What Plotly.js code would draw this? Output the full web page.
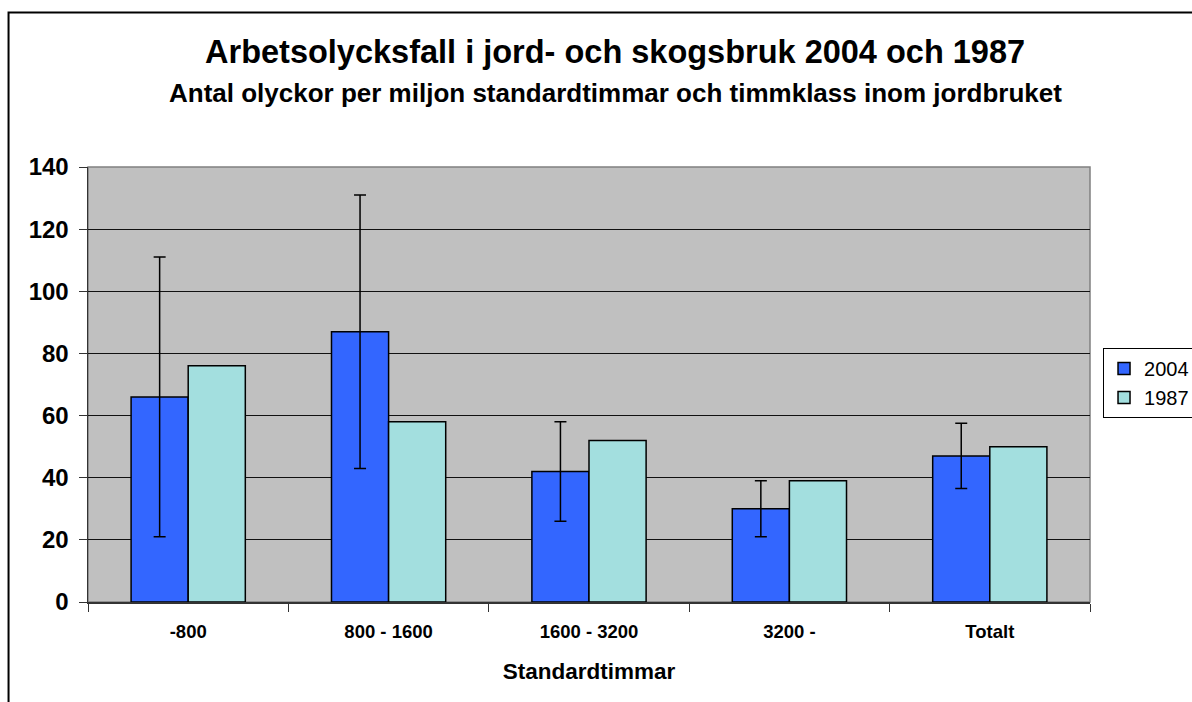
<!DOCTYPE html>
<html>
<head>
<meta charset="utf-8">
<script src="https://cdn.plot.ly/plotly-3.0.1.min.js"></script>
<style>
html,body{margin:0;padding:0;background:#fff;}
#chart{width:1192px;height:702px;}
</style>
</head>
<body>
<div id="chart"></div>
<script>
const categories = ["-800", "800 - 1600", "1600 - 3200", "3200 -", "Totalt"];
const values2004 = [66, 87, 42, 30, 47];
const errors2004 = [45, 44, 16, 9, 10.5];
const values1987 = [76, 58, 52, 39, 50];
const seriesNames = ["2004", "1987"];
const yTicks = [0, 20, 40, 60, 80, 100, 120, 140];

const FONT = '"Liberation Sans", Arial, sans-serif';

const traces = [
  {
    type: 'bar', name: seriesNames[0], x: categories, y: values2004,
    marker: {color: '#3366FF', line: {color: '#000000', width: 1.5}},
    error_y: {type: 'data', array: errors2004, visible: true, color: '#000000', thickness: 1.5, width: 6}
  },
  {
    type: 'bar', name: seriesNames[1], x: categories, y: values1987,
    marker: {color: '#A3DFDF', line: {color: '#000000', width: 1.5}}
  }
];

const layout = {
  width: 1192, height: 702,
  margin: {l: 88, r: 102, t: 167, b: 100, pad: 0, autoexpand: false},
  paper_bgcolor: '#FFFFFF',
  plot_bgcolor: '#C0C0C0',
  font: {family: FONT, color: '#000000'},
  barmode: 'group',
  bargap: 0.43,
  bargroupgap: 0,
  title: {
    text: 'Arbetsolycksfall i jord- och skogsbruk 2004 och 1987',
    font: {family: FONT, size: 32.5, weight: 700, color: '#000'},
    x: 0.516, xanchor: 'center', y: 0.926, yanchor: 'middle', xref: 'container', yref: 'container'
  },
  annotations: [{
    text: 'Antal olyckor per miljon standardtimmar och timmklass inom jordbruket',
    xref: 'paper', yref: 'paper', x: 0.526, y: 1.170, xanchor: 'center', yanchor: 'middle',
    showarrow: false, font: {family: FONT, size: 26, weight: 700, color: '#000'}
  }],
  xaxis: {
    type: 'category',
    tickson: 'boundaries',
    ticks: 'outside', ticklen: 8, tickcolor: '#333', tickwidth: 1,
    showline: true, linecolor: '#333', linewidth: 1.5,
    showgrid: false,
    ticklabelstandoff: 12,
    tickfont: {family: FONT, size: 18.5, weight: 700, color: '#000'},
    title: {text: 'Standardtimmar', font: {family: FONT, size: 22.5, weight: 700, color: '#000'}, standoff: 22}
  },
  yaxis: {
    range: [0, 140],
    tickvals: yTicks,
    ticks: 'outside', ticklen: 8, tickcolor: '#333', tickwidth: 1,
    showline: true, linecolor: '#333', linewidth: 1.5,
    showgrid: true, gridcolor: '#111', gridwidth: 1,
    zeroline: false,
    ticklabelstandoff: 5,
    tickfont: {family: FONT, size: 24, weight: 700, color: '#000'}
  },
  legend: {
    x: 1.013, xanchor: 'left', y: 0.584, yanchor: 'top',
    bgcolor: '#FFFFFF', bordercolor: '#000000', borderwidth: 1,
    font: {family: FONT, size: 20, color: '#000'},
    itemwidth: 30, tracegroupgap: 0
  },
  shapes: [
    {type: 'rect', xref: 'paper', yref: 'paper', x0: 0, x1: 1, y0: 0, y1: 1,
     line: {color: '#808080', width: 1.5}, layer: 'below'},
    {type: 'rect', xref: 'paper', yref: 'paper', x0: -0.0793, x1: 1.25, y0: -0.6, y1: 1.355,
     line: {color: '#000000', width: 2}, fillcolor: 'rgba(0,0,0,0)', layer: 'above'}
  ],
  showlegend: true
};

Plotly.newPlot('chart', traces, layout, {displayModeBar: false, staticPlot: true});
</script>
</body>
</html>
